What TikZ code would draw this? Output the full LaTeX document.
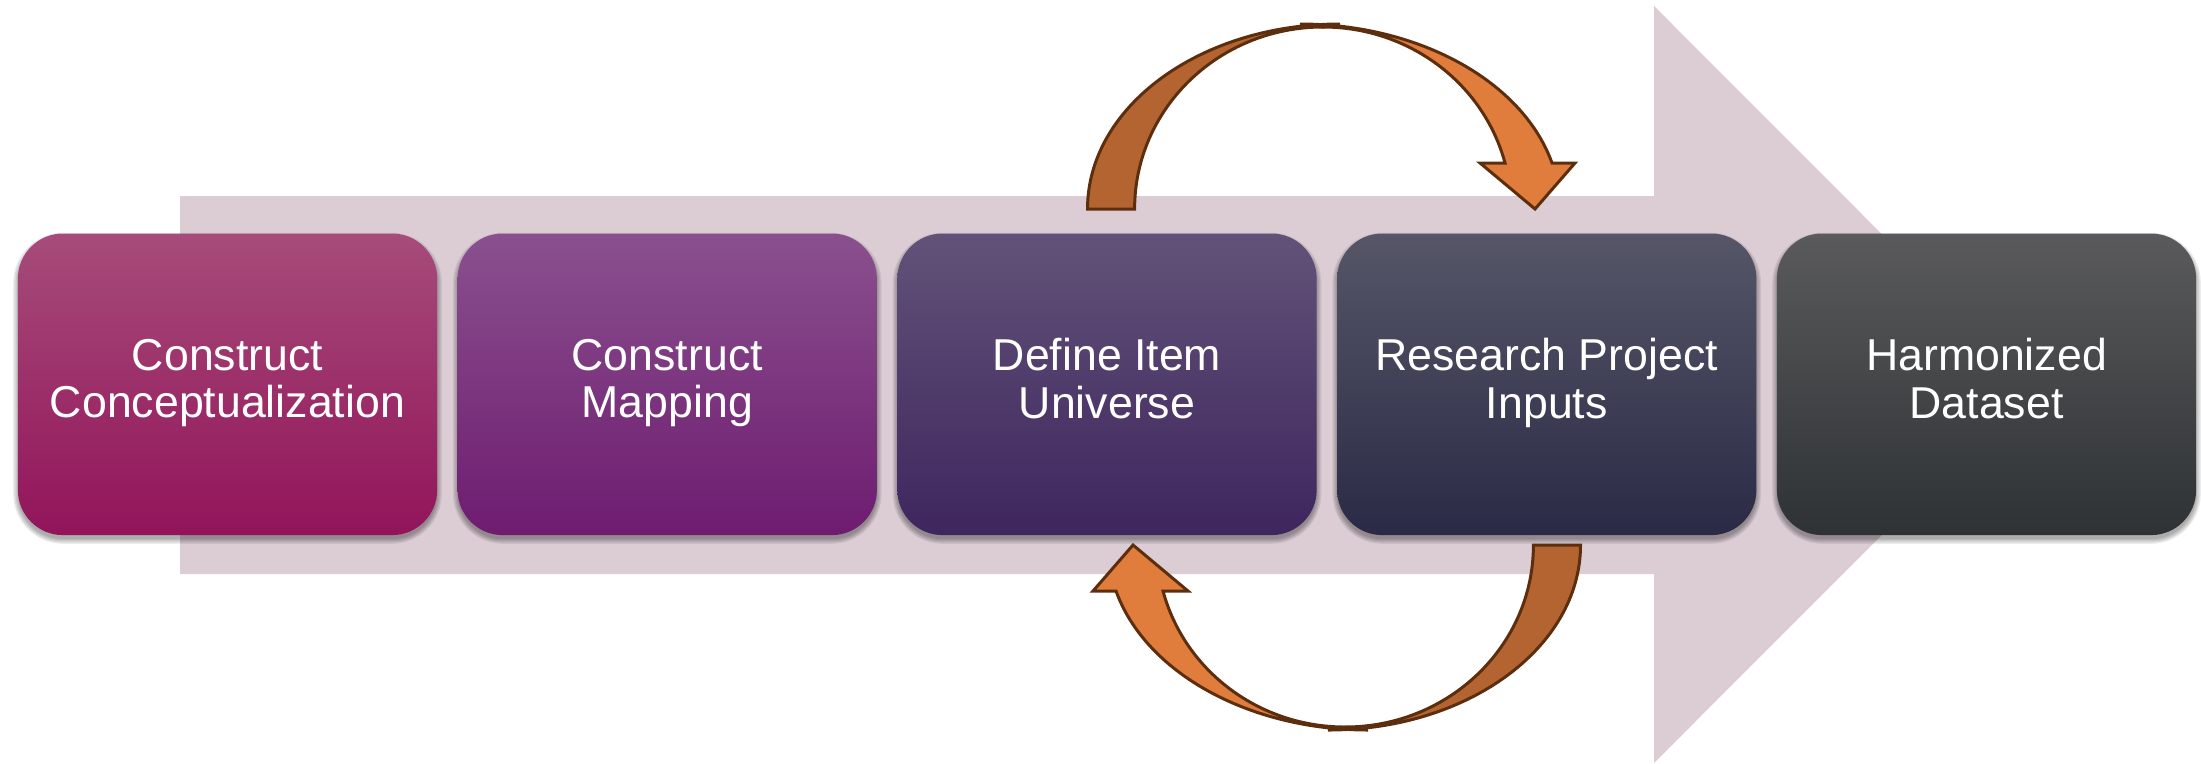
\documentclass[tikz,border=0pt]{standalone}
\usepackage{fontspec}
\setmainfont{Liberation Sans}
\definecolor{bandpink}{RGB}{220,205,213}
\definecolor{arrdark}{RGB}{180,100,48}
\definecolor{arrlight}{RGB}{224,124,60}
\definecolor{arrline}{RGB}{92,46,14}
\definecolor{aT}{RGB}{166,76,122}\definecolor{aB}{RGB}{146,20,90}
\definecolor{bT}{RGB}{138,80,142}\definecolor{bB}{RGB}{110,28,112}
\definecolor{cT}{RGB}{98,82,120}\definecolor{cB}{RGB}{62,38,94}
\definecolor{dT}{RGB}{86,86,104}\definecolor{dB}{RGB}{42,42,70}
\definecolor{eT}{RGB}{90,90,92}\definecolor{eB}{RGB}{46,50,52}
\tikzset{
  stepbox/.style={rounded corners=0.45cm, inner sep=0pt,
    minimum width=4.19cm, minimum height=3.014cm, align=center,
    text=white, font=\fontsize{12.7pt}{13.5pt}\selectfont,
    execute at begin node={\rule{0pt}{11pt}},
    execute at end node={\rule[-3.36pt]{0pt}{3.36pt}}},
  shadowlayer/.style={fill=black, fill opacity=0.075, draw=none},
  arrowpart/.style={draw=arrline, line width=0.85pt, line join=miter}
}
\begin{document}
\begin{tikzpicture}[x=0.01cm, y=-0.01cm]
\useasboundingbox (0,0) rectangle (2201,763);
% big background arrow
\fill[bandpink] (180,196) -- (1654,196) -- (1654,6) -- (2032,384.5)
  -- (1654,763) -- (1654,574) -- (180,574) -- cycle;
% soft shadows under the boxes
\foreach \cx in {227.5,667.25,1107,1546.75,1986.5}{
  \foreach \k in {0,1.2,2.4,3.6,4.8}{
    \fill[shadowlayer, rounded corners=0.45cm+\k*0.01cm]
      (\cx-209.5-\k,384.3-150.7-\k+4) rectangle (\cx+209.5+\k,384.3+150.7+\k+4);
  }}
% boxes
\node[stepbox, top color=aT, bottom color=aB] (s1) at (227.5,384.3) {Construct\\Conceptualization};
\node[stepbox, top color=bT, bottom color=bB] (s2) at (667.25,384.3) {Construct\\Mapping};
\node[stepbox, top color=cT, bottom color=cB] (s3) at (1107,384.3) {Define Item\\Universe};
\node[stepbox, top color=dT, bottom color=dB] (s4) at (1546.75,384.3) {Research Project\\Inputs};
\node[stepbox, top color=eT, bottom color=eB] (s5) at (1986.5,384.3) {Harmonized\\Dataset};
% curved arrows (top, and bottom as a 180 degree rotation)
\foreach \rot in {0,180}{
\begin{scope}[rotate around={\rot:(1334,377)}]
\draw[arrowpart, fill=arrlight] (1300,24) .. controls (1418.7,24) and (1522.5,81.1) .. (1552,163)
  -- (1575,163) -- (1535,209) -- (1480,163) -- (1505,163)
  .. controls (1483.3,82.8) and (1408.5,27) .. (1323,27) -- cycle;
\draw[arrowpart, fill=arrdark] (1087.5,209) -- (1134.6,209)
  .. controls (1134.6,108.5) and (1219,27) .. (1323,27) -- (1340,24)
  .. controls (1200,24) and (1087.5,106.8) .. (1087.5,209) -- cycle;
\end{scope}}
\end{tikzpicture}
\end{document}
